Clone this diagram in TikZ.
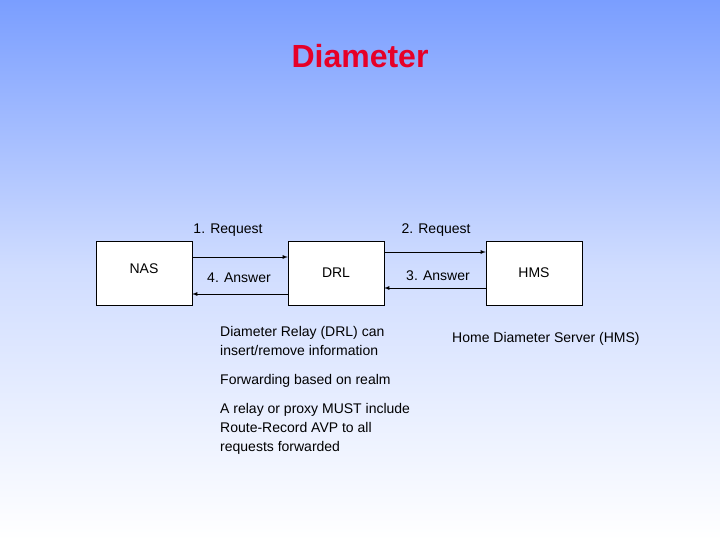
\documentclass[tikz,border=0pt]{standalone}
\usepackage{fontspec}
\setmainfont{Liberation Sans}
\usetikzlibrary{positioning}
\definecolor{topblue}{RGB}{122,158,255}
\definecolor{titlered}{RGB}{230,0,40}
\tikzset{
  box/.style={draw, fill=white, minimum width=96pt, minimum height=64pt, inner sep=0pt, font=\fontsize{14}{17}\selectfont},
  lbl/.style={font=\fontsize{14}{17}\selectfont, inner sep=0pt},
  note/.style={font=\fontsize{14}{19}\selectfont, align=left, inner sep=0pt, anchor=north west},
  msg/.style={->, >=latex, thick}
}
\begin{document}
\begin{tikzpicture}[x=1pt,y=-1pt]
% fond
\shade[top color=topblue, bottom color=white, middle color=topblue!35] (0,0) rectangle (720,540);
\useasboundingbox (0,0) rectangle (720,540);
\node [font=\fontsize{32}{38}\selectfont\bfseries, text=titlered] (title) at (360,56) {Diameter};

% boites
\node [box] (nas) at (144,273) {\raisebox{0pt}[0pt][0pt]{\raisebox{0pt}{NAS}}};
\node [box] (drl) at (336,273) {DRL};
\node [box] (hms) at (534,273) {HMS};

% messages
\coordinate (r1) at (nas.east |- 0,257);
\coordinate (a4) at (nas.east |- 0,294);
\coordinate (r2) at (drl.east |- 0,252);
\coordinate (a3) at (drl.east |- 0,288);
\draw [msg] (r1) -- (drl.west |- r1);
\draw [msg] (drl.west |- a4) -- (a4);
\draw [msg] (r2) -- (hms.west |- r2);
\draw [msg] (hms.west |- a3) -- (a3);
\node [lbl] (l1) at (228,230) {1. Request};
\node [lbl] (l2) at (436,230) {2. Request};
\node [lbl] (l4) at (239,278) {4. Answer};
\node [lbl] (l3) at (438,276) {3. Answer};

% textes
\node [note] (t1) at (220,326) {Diameter Relay (DRL) can\\insert/remove information};
\node [note] (t2) at (220,374) {Forwarding based on realm};
\node [note] (t3) at (220,403) {A relay or proxy MUST include\\Route-Record AVP to all\\requests forwarded};
\node [note] (t4) at (452,332) {Home Diameter Server (HMS)};
\end{tikzpicture}
\end{document}
